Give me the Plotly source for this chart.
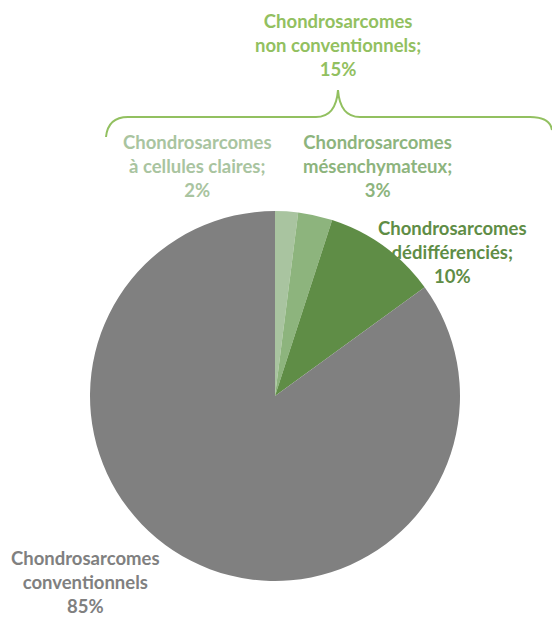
import plotly.graph_objects as go

labels = ["Chondrosarcomes à cellules claires", "Chondrosarcomes mésenchymateux",
          "Chondrosarcomes dédifférenciés", "Chondrosarcomes conventionnels"]
values = [2, 3, 10, 85]
colors = ["#A9C4A0", "#8DB47D", "#5F8D46", "#808080"]
group_label = "Chondrosarcomes<br>non conventionnels;<br>15%"
label_texts = ["Chondrosarcomes<br>à cellules claires;<br>2%",
               "Chondrosarcomes<br>mésenchymateux;<br>3%",
               "Chondrosarcomes<br>dédifférenciés;<br>10%",
               "Chondrosarcomes<br>conventionnels<br>85%"]
label_colors = ["#A9C4A0", "#8DB47D", "#5F8D46", "#808080"]

W, H = 552, 617
cx, cy, r = 275, 396, 185

fig = go.Figure()
fig.add_trace(go.Pie(
    labels=labels, values=values, sort=False, direction="clockwise", rotation=0,
    marker=dict(colors=colors, line=dict(width=0)), textinfo="none", hoverinfo="label+percent",
    domain=dict(x=[(cx - r) / W, (cx + r) / W], y=[1 - (cy + r) / H, 1 - (cy - r) / H]),
    showlegend=False,
))

# brace
brace = ("M 106 137 Q 108 117 128 117 L 316 117 Q 336 117 338 90 "
         "Q 340 117 360 117 L 530 117 Q 550 117 552 130")
fig.add_shape(type="path", path=brace, xref="x", yref="y",
              line=dict(color="#92C060", width=2))

font_family = "Lato, 'Open Sans', sans-serif"
fs = 18.5
ann_pos = [(197, 166), (377, 166), (452, 252), (85, 582)]
fig.add_annotation(x=338, y=45, text="<b>" + group_label + "</b>", showarrow=False,
                   xref="x", yref="y", font=dict(family=font_family, size=fs, color="#92C060"))
for (x, y), t, c in zip(ann_pos, label_texts, label_colors):
    fig.add_annotation(x=x, y=y, text="<b>" + t + "</b>", showarrow=False,
                       xref="x", yref="y", font=dict(family=font_family, size=fs, color=c))

fig.update_xaxes(range=[0, W], visible=False, fixedrange=True)
fig.update_yaxes(range=[H, 0], visible=False, fixedrange=True)
fig.update_layout(width=W, height=H, margin=dict(l=0, r=0, t=0, b=0),
                  paper_bgcolor="white", plot_bgcolor="rgba(0,0,0,0)")
fig.write_html("out.html", config={"displayModeBar": False},
               post_script="document.body.style.margin='0';document.body.style.overflow='hidden';")
